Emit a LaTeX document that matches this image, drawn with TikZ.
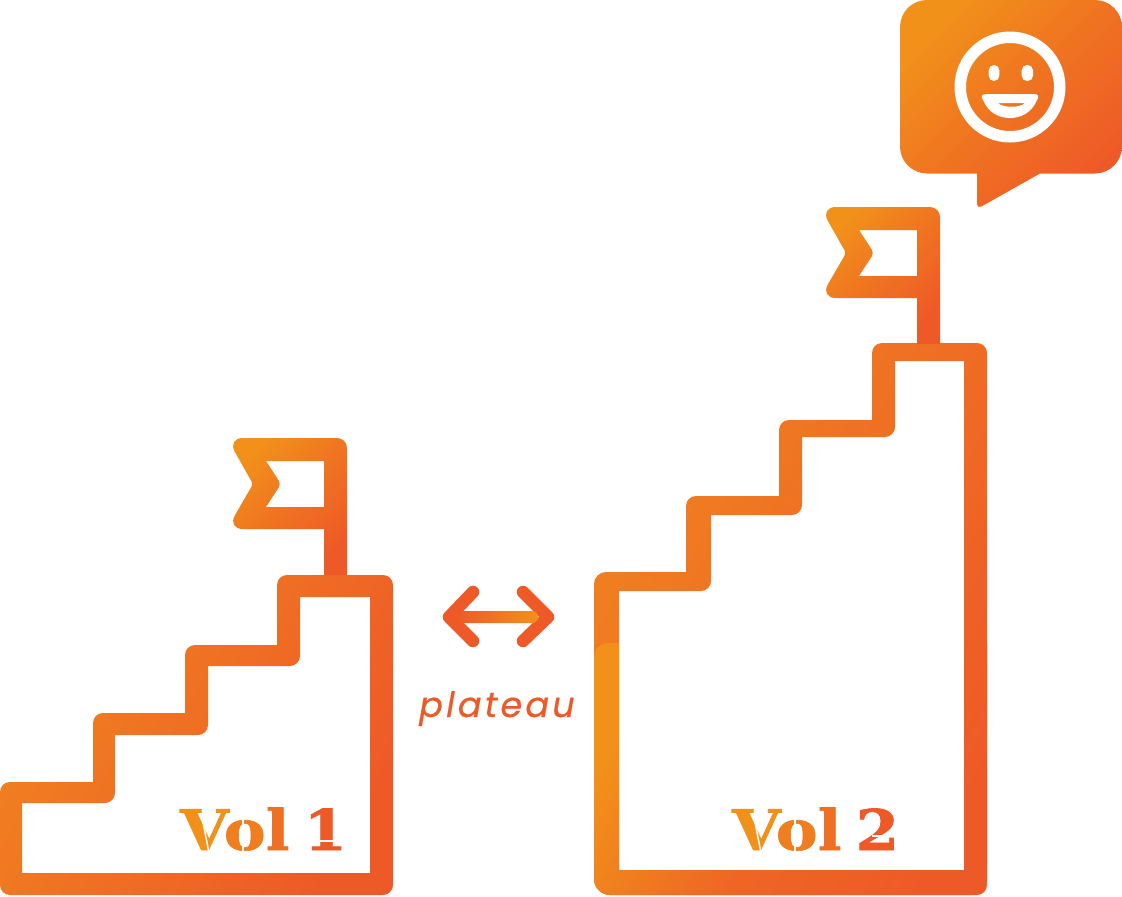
\documentclass[tikz,border=0pt]{standalone}
\usepackage{fontspec}
\newfontfamily\platfont{Poppins}
\newfontfamily\volfont[FakeStretch=1.12,FakeBold=1.2]{DejaVu Serif}
\definecolor{ornA}{HTML}{F1911A}
\definecolor{ornS}{HTML}{F08220}
\definecolor{ornB}{HTML}{EE5A27}
\tikzset{
  grad/.style={even odd rule, top color=ornA, bottom color=ornB, middle color=ornA!45!ornB, shading angle=45},
  stairgrad/.style={even odd rule, top color=ornS, bottom color=ornB, middle color=ornS!50!ornB, shading angle=60},
  lowgrad/.style={even odd rule, top color=ornA, bottom color=ornB, middle color=ornA!22!ornB, shading angle=62},
  rc/.style={rounded corners=#1},
  volcut/.style={white, line width=1.5pt}
}
\def\flagpath{
  (885,207) [rc=10] -- (940,207) [sharp corners] -- (940,344) -- (917,344) -- (917,298) [rc=16] -- (820,298) [rc=3] -- (846,253) [rc=16] -- (820,207) [sharp corners] -- cycle
  (917,230) -- (859,230) [rc=4] -- (874,253) [sharp corners] -- (859,276) -- (917,276) -- cycle
}
\begin{document}
\begin{tikzpicture}[x=1pt, y=-1pt]
  \useasboundingbox (0,0) rectangle (1122,897);
  % stairs
  \shade[stairgrad] (0,840) [rc=10] -- (0,782) [sharp corners] -- (93,782) [rc=10] -- (93,713) [sharp corners] -- (185,713) [rc=10] -- (185,645) [sharp corners] -- (277,645) [rc=10] -- (277,575) -- (393,575) -- (393,895) -- (0,895) [sharp corners] -- cycle
    (22,873) -- (22,803) [rc=10] -- (115,803) [sharp corners] -- (115,735) [rc=10] -- (208,735) [sharp corners] -- (208,666) [rc=10] -- (300,666) [sharp corners] -- (300,597) -- (370,597) -- (370,873) -- cycle;
  \shade[stairgrad] (594,700) [rc=12] -- (594,572) [sharp corners] -- (686,572) [rc=10] -- (686,496) [sharp corners] -- (779,496) [rc=10] -- (779,420) [sharp corners] -- (872,420) [rc=10] -- (872,343) -- (987,343) -- (987,895) [rc=16] -- (594,895) [sharp corners] -- cycle
    (619,870) -- (619,591) [rc=10] -- (711,591) [sharp corners] -- (711,515) [rc=10] -- (802,515) [sharp corners] -- (802,437) [rc=10] -- (895,437) [sharp corners] -- (895,361) -- (964,361) -- (964,870) -- cycle;
  \shade[lowgrad] (619,643) -- (619,870) -- (964,870) -- (964,643) -- (987,643) [rc=16] -- (987,895) -- (594,895) [rc=14] -- (594,643) [sharp corners] -- cycle;
  % flags
  \foreach \dx/\dy in {0/0,-593/231}{
    \begin{scope}[shift={(\dx,\dy)}]
      \shade[grad] \flagpath;
    \end{scope}
  }
  % speech bubble
  \shade[grad] (1010,0) [rc=27] -- (1122,0) -- (1122,173.5) [sharp corners] -- (1040,173.5) [rc=5] -- (977,209) [sharp corners] -- (977,173.5) [rc=27] -- (900,173.5) -- (900,0) [sharp corners] -- cycle;
  \fill[white, even odd rule] (1010,87) circle[radius=55.5] (1010,87) circle[radius=44];
  \fill[white, rc=5.3] (988.7,65) rectangle (999.3,81);
  \fill[white, rc=5.3] (1021.7,65) rectangle (1033,81);
  \fill[white, even odd rule] (987,94) -- (1034,94) .. controls (1039,94) and (1039,97) .. (1037,100) .. controls (1032,112) and (1022,118) .. (1010,118) .. controls (998,118) and (988,112) .. (983,100) .. controls (981,97) and (981,94) .. (987,94) -- cycle
    (998,103) -- (1025,103) .. controls (1020,108) and (1003,108) .. (998,103) -- cycle;
  % arrow
  \draw[ornB, line width=12.5pt, line cap=round, line join=round] (473,592) -- (449,617) -- (473,641);
  \draw[ornB, line width=12.5pt, line cap=round, line join=round] (523,592) -- (548,617) -- (523,641);
  \shade[left color=ornB, right color=ornA, rc=6] (456,611) rectangle (538,623);
  % labels
  \node[text=ornB, anchor=base, inner sep=0pt] (plat) at (497,717) {\platfont\itshape\addfontfeature{LetterSpace=9,FakeBold=0.5}\fontsize{35}{35}\selectfont plateau};
  \node[anchor=base west, inner sep=0pt] (vola) at (180,850) {\volfont\bfseries\fontsize{56}{56}\selectfont\textcolor{ornA}{V}\kern-5pt\textcolor{ornA!65!ornB}{o}\textcolor{ornA!40!ornB}{l}\kern14pt\textcolor{ornB}{1}};
  \node[anchor=base west, inner sep=0pt] (volb) at (732,850) {\volfont\bfseries\fontsize{56}{56}\selectfont\textcolor{ornA}{V}\kern-5pt\textcolor{ornA!65!ornB}{o}\textcolor{ornA!40!ornB}{l}\kern14pt\textcolor{ornB}{2}};
  % stencil gaps
  \foreach \dx in {0,552}{
    \draw[volcut] (203+\dx,822) -- (209+\dx,853);
    \draw[volcut] (243+\dx,814) -- (243+\dx,854);
  }
  \draw[volcut] (305,841) -- (342,841);
  \draw[volcut] (872,836) -- (905,836);
\end{tikzpicture}
\end{document}
